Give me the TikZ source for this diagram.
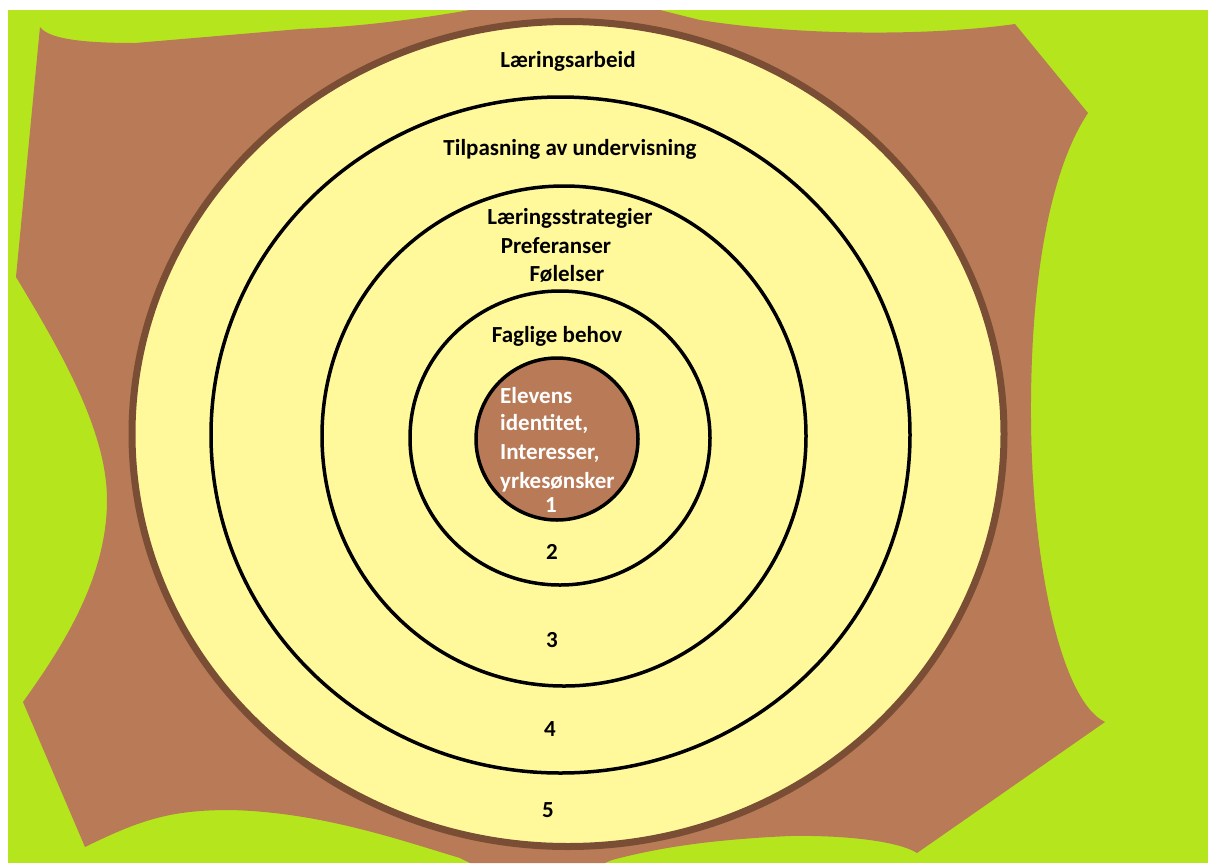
\documentclass[tikz,border=0pt]{standalone}
\usepackage{fontspec}
\setmainfont{Carlito}
\definecolor{lime}{HTML}{B5E61D}
\definecolor{bark}{HTML}{B97A57}
\definecolor{barkdark}{HTML}{7A4E35}
\definecolor{paleyellow}{HTML}{FFF99C}
\begin{document}
\begin{tikzpicture}[x=1pt,y=-1pt,
  ring/.style={draw=black,line width=3.5pt},
  lbl/.style={font=\fontsize{23}{27}\selectfont\bfseries,text=black,inner sep=0pt,anchor=base},
  core/.style={lbl,text=white,anchor=base west}]
\useasboundingbox (0,0) rectangle (1208,863);
\fill[white] (0,0) rectangle (1208,863);
\fill[lime] (8,10) rectangle (1208,863);

% brown ground shape
\fill[bark] (40,27) -- (16,277)
  .. controls (60,350) and (107,430) .. (107,500)
  .. controls (107,580) and (60,650) .. (23,702)
  -- (85,847)
  .. controls (140,820) and (170,810) .. (230,810)
  .. controls (320,812) and (400,840) .. (460,858)
  -- (470,863) -- (605,863) -- (612,860)
  .. controls (650,850) and (700,840) .. (790,836)
  .. controls (850,835) and (900,842) .. (917,853)
  -- (1105,722)
  .. controls (1060,700) and (1032,560) .. (1031,420)
  .. controls (1030,280) and (1050,170) .. (1088,113)
  -- (1015,24)
  .. controls (930,36) and (800,36) .. (700,20)
  -- (660,10) -- (470,10)
  .. controls (400,22) and (350,27) .. (300,29)
  -- (135,43)
  .. controls (90,43) and (55,40) .. (43,30) -- cycle;

% concentric rings
\draw[fill=paleyellow,draw=barkdark,line width=7pt] (568,434) ellipse [x radius=436, y radius=412.5];
\draw[ring] (560.5,435) ellipse [x radius=349.5, y radius=338];
\draw[ring] (564,436) ellipse [x radius=242, y radius=250];
\draw[ring] (560,438) ellipse [x radius=150, y radius=147];
\draw[ring,fill=bark] (557,439) ellipse [x radius=81, y radius=81];

% ring texts
\node[lbl] (t5) at (568,67) {Læringsarbeid};
\node[lbl] (t4) at (570,155) {Tilpasning av undervisning};
\node[lbl] (t3a) at (570,224) {Læringsstrategier};
\node[lbl] (t3b) at (556,253) {Preferanser};
\node[lbl] (t3c) at (567,281) {Følelser};
\node[lbl] (t2) at (557,342) {Faglige behov};
\node[core] (c1) at (500,403) {Elevens};
\node[core] (c2) at (500,430) {identitet,};
\node[core] (c3) at (500,459) {Interesser,};
\node[core] (c4) at (500,488) {yrkesønsker};

% ring numbers
\node[lbl,text=white] (n1) at (551,512) {1};
\node[lbl] (n2) at (552,559) {2};
\node[lbl] (n3) at (552,647) {3};
\node[lbl] (n4) at (550,736) {4};
\node[lbl] (n5) at (548,817) {5};
\end{tikzpicture}
\end{document}
